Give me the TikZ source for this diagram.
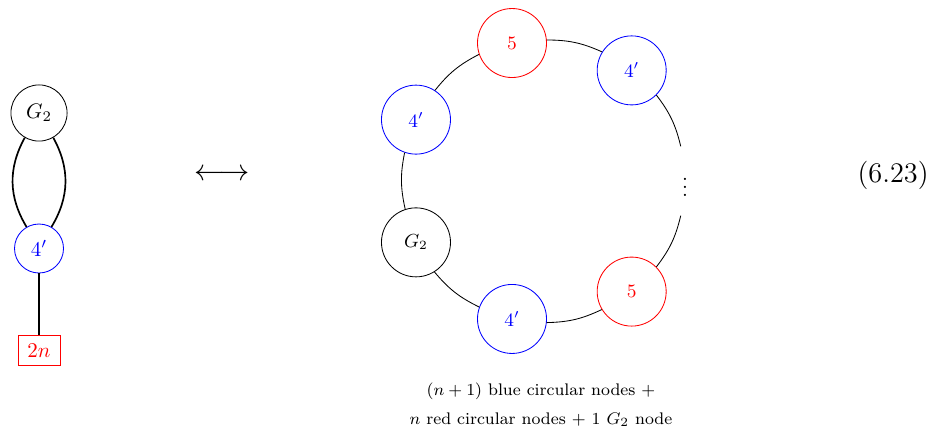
\documentclass[tikz,border=0pt]{standalone}
\usepackage{amsmath,amssymb}
\usepackage{tikz}
\usetikzlibrary{positioning}

\begin{document}
\begin{tikzpicture}
    \tikzstyle{cg}=[circle,draw,inner sep=0pt];
    \tikzstyle{cb}=[circle,draw=blue,text=blue,inner sep=0pt];
    \tikzstyle{cr}=[circle,draw=red,text=red,inner sep=0pt];
    \tikzstyle{ring}=[minimum size=11.55mm,font=\small];
    \useasboundingbox (0,0) rectangle (15.548,7.163);
    % left quiver
    \node[cg,minimum size=9.4mm] (g) at (0.653,5.272) {$G_2$};
    \node[cb,minimum size=8.2mm] (f) at (0.653,3.004) {$4'$};
    \node[draw=red,text=red,minimum width=7mm,minimum height=5mm,inner sep=0pt] (n) at (0.653,1.297) {$2n$};
    \draw[thick] (g) to[bend right=30] (f);
    \draw[thick] (g) to[bend left=30] (f);
    \draw[thick] (f) -- (n);
    \node[font=\fontsize{13.5}{16}\selectfont] (arr) at (3.715,4.234) {$\longleftrightarrow$};
    % ring
    \node[cb,ring] (b1) at (10.572,5.985) {$4'$};
    \node[cr,ring] (r1) at (8.569,6.443) {$5$};
    \node[cb,ring] (b2) at (6.962,5.161) {$4'$};
    \node[cg,ring] (g2) at (6.962,3.107) {$G_2$};
    \node[cb,ring] (b3) at (8.569,1.825) {$4'$};
    \node[cr,ring] (r2) at (10.572,2.283) {$5$};
    \node[circle,minimum size=11.55mm,inner sep=0pt] (dots) at (11.464,4.134) {$\vdots$};
    \draw (dots.97) to[bend right=12] (b1.-45.57);
    \draw (b1.148.43) to[bend right=12] (r1.5.86);
    \draw (r1.199.86) to[bend right=12] (b2.57.29);
    \draw (b2.251.29) to[bend right=12] (g2.108.71);
    \draw (g2.302.71) to[bend right=12] (b3.160.14);
    \draw (b3.354.14) to[bend right=12] (r2.211.57);
    \draw (r2.45.57) to[bend right=12] (dots.263);
    \node[font=\footnotesize,align=center] (cap) at (9.054,0.385)
       {$(n+1)$ blue circular nodes $+$\\[4.3pt] $n$ red circular nodes $+$ $1$ $G_2$ node};
    % equation number
    \node[anchor=east,inner sep=0pt,font=\fontsize{13.5}{16}\selectfont] (eq) at (15.548,4.234) {(6.23)};
\end{tikzpicture}
\end{document}
